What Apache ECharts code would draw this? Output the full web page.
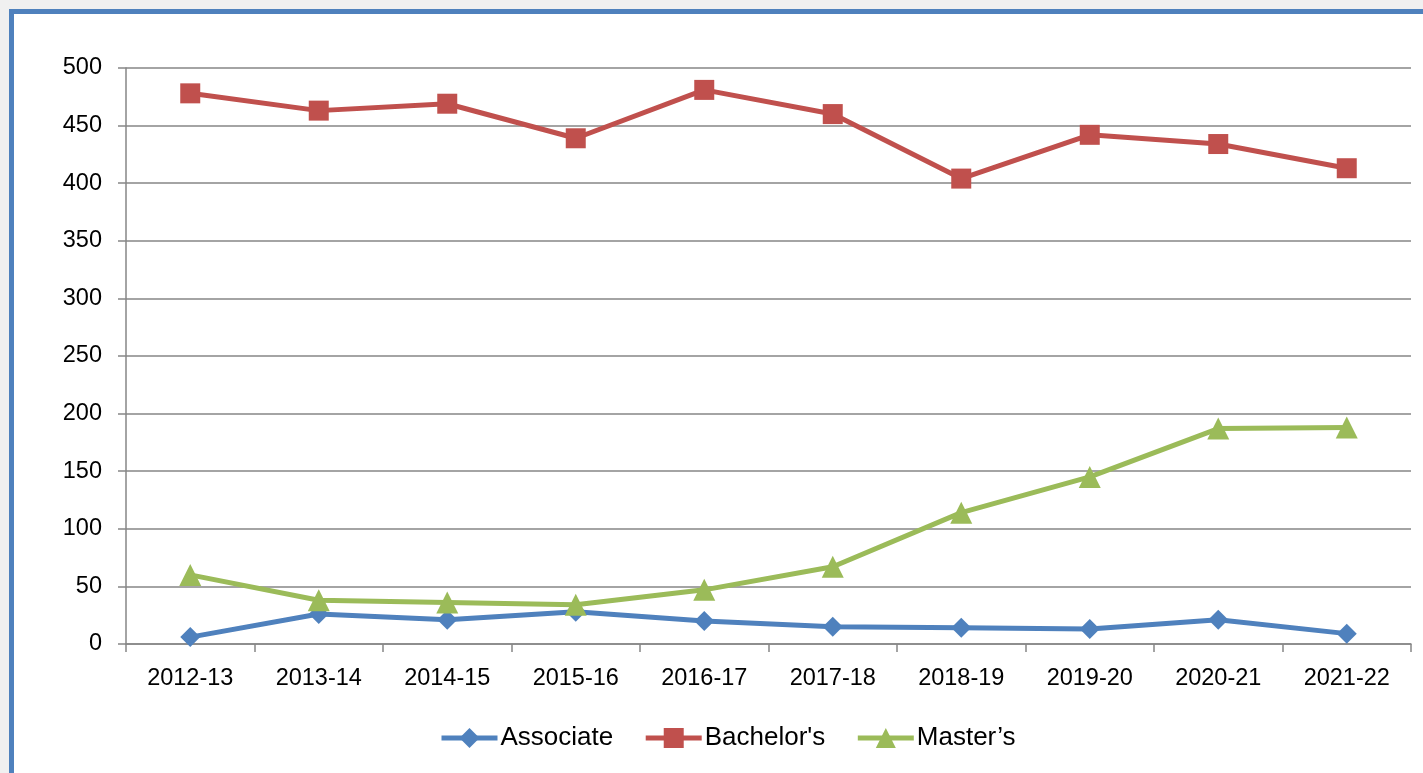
<!DOCTYPE html>
<html>
<head>
<meta charset="utf-8">
<script src="https://cdn.jsdelivr.net/npm/echarts@6/dist/echarts.min.js"></script>
<style>
	html, body { margin: 0; padding: 0; background: #f0f0f0; overflow: hidden; }
	.frame {
		position: absolute;
		left: 9px;
		top: 9px;
		width: 1409px;
		height: 759px;
		border-left: 5px solid #4f81bd;
		border-top: 5px solid #4f81bd;
		background: #ffffff;
	}
	#chart { width: 1409px; height: 759px; }
</style>
</head>
<body>
<div class="frame"><div id="chart"></div></div>
<script>
	// academic years on the x axis
	var years = ['2012-13','2013-14','2014-15','2015-16','2016-17','2017-18','2018-19','2019-20','2020-21','2021-22']
	// degree counts
	var associate = [6, 26, 21, 28, 20, 15, 14, 13, 21, 9]
	var bachelors = [478, 463, 469, 439, 481, 460, 404, 442, 434, 413]
	var masters = [60, 38, 36, 34, 47, 67, 114, 145, 187, 188]
	var yTicks = [0, 50, 100, 150, 200, 250, 300, 350, 400, 450, 500]

	var fontName = '"Liberation Sans", Arial, sans-serif'
	var axisGray = '#868686'

	var chartInstance = echarts.init(document.getElementById('chart'), null, {renderer: 'canvas'})

	function makeSeries(name, values, color, symbol, size){
		return {
			name: name,
			type: 'line',
			data: values,
			symbol: symbol,
			symbolSize: size,
			showAllSymbol: true,
			lineStyle: { color: color, width: 5 },
			itemStyle: { color: color },
			emphasis: { disabled: true },
			z: 3
		}
	}

	var option = {
		animation: false,
		backgroundColor: '#ffffff',
		textStyle: { fontFamily: fontName },
		grid: {
			left: 112,
			top: 54,
			right: 12,
			bottom: 129,
			containLabel: false
		},
		legend: {
			left: 420,
			top: 706,
			itemWidth: 56,
			itemHeight: 25,
			itemGap: 30,
			lineStyle: { width: 5 },
			textStyle: { fontFamily: fontName, fontSize: 26, color: '#000000', padding: [0, 0, 0, -2] },
			data: ["Associate", "Bachelor's", "Master\u2019s"]
		},
		xAxis: {
			type: 'category',
			data: years,
			boundaryGap: true,
			axisLine: { show: true, lineStyle: { color: axisGray, width: 1.5 } },
			axisTick: { show: true, length: 8, inside: false, lineStyle: { color: axisGray, width: 1.5 } },
			axisLabel: { color: '#000000', fontSize: 23.5, fontFamily: fontName, margin: 23, interval: 0 },
			splitLine: { show: false }
		},
		yAxis: {
			type: 'value',
			min: yTicks[0],
			max: yTicks[yTicks.length - 1],
			interval: 50,
			axisLine: { show: true, lineStyle: { color: axisGray, width: 1.5 } },
			axisTick: { show: true, length: 8, lineStyle: { color: axisGray, width: 1.5 } },
			axisLabel: { color: '#000000', fontSize: 23.5, fontFamily: fontName, margin: 24 },
			splitLine: { show: true, lineStyle: { color: axisGray, width: 1.5 } }
		},
		series: [
			makeSeries('Associate', associate, '#4f81bd', 'diamond', 20),
			makeSeries("Bachelor's", bachelors, '#c0504d', 'rect', 20),
			makeSeries('Master\u2019s', masters, '#9bbb59', 'triangle', 22)
		]
	}
	chartInstance.setOption(option)
</script>
</body>
</html>
